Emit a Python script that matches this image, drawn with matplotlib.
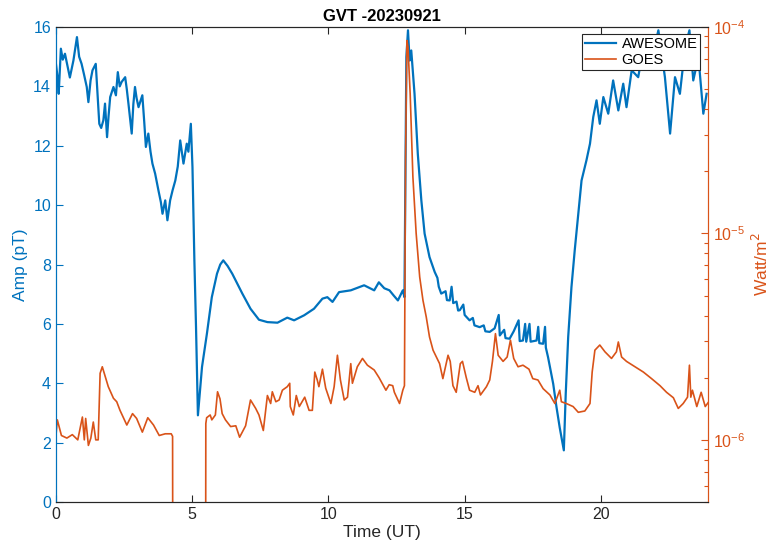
import numpy as np
import matplotlib
matplotlib.use('Agg')
import matplotlib.pyplot as plt
from matplotlib.ticker import LogLocator, NullFormatter

plt.rcParams.update({
    'font.family': ['Liberation Sans', 'DejaVu Sans'],
    'xtick.direction': 'in',
    'ytick.direction': 'in',
})

# AWESOME narrowband amplitude (pT) vs time (UT hours)
awesome_t = [0.00, 0.06, 0.10, 0.18, 0.25, 0.33, 0.42, 0.51, 0.64, 0.77, 0.85, 0.94,
             1.03, 1.13, 1.19, 1.27, 1.34, 1.46, 1.52, 1.59, 1.66, 1.74, 1.80, 1.875,
             1.93, 1.99, 2.11, 2.20, 2.27, 2.34, 2.41, 2.54, 2.60, 2.66, 2.72, 2.78,
             2.84, 2.90, 2.96, 3.03, 3.10, 3.17, 3.24, 3.30, 3.39, 3.47, 3.54, 3.64,
             3.76, 3.85, 3.91, 4.01, 4.09, 4.19, 4.28, 4.38, 4.47, 4.56, 4.62, 4.68,
             4.80, 4.86, 4.95, 5.01, 5.08, 5.14, 5.21, 5.36, 5.54, 5.72, 5.91, 6.03,
             6.14, 6.30, 6.47, 6.84, 7.14, 7.45, 7.76, 8.13, 8.49, 8.74, 9.11, 9.47,
             9.78, 9.96, 10.15, 10.39, 10.82, 11.31, 11.68, 11.85, 12.05, 12.24, 12.40,
             12.55, 12.73, 12.79, 12.86, 12.92, 12.98, 13.04, 13.16, 13.28, 13.41, 13.53,
             13.71, 13.90, 14.00, 14.05, 14.14, 14.30, 14.35, 14.45, 14.52, 14.58, 14.70,
             14.76, 14.82, 14.95, 15.00, 15.18, 15.30, 15.36, 15.55, 15.70, 15.76, 15.92,
             16.10, 16.25, 16.29, 16.45, 16.50, 16.65, 16.80, 16.98, 17.02, 17.14, 17.22,
             17.26, 17.38, 17.42, 17.64, 17.70, 17.74, 17.88, 17.95, 17.98,
             18.06, 18.25, 18.37, 18.49, 18.64, 18.71, 18.80, 18.92, 19.04,
             19.17, 19.29, 19.47, 19.60, 19.72, 19.84, 19.96, 20.09, 20.27, 20.45, 20.64,
             20.82, 20.94, 21.13, 21.37, 21.56, 21.80, 22.11, 22.35, 22.54, 22.72, 22.90,
             23.09, 23.25, 23.39, 23.58, 23.76, 23.88]
awesome_amp = [14.75, 14.3, 13.75, 15.27, 14.9, 15.1, 14.7, 14.3, 14.87, 15.66, 15.0, 14.76,
               14.4, 13.98, 13.47, 14.2, 14.54, 14.76, 13.8, 12.74, 12.6, 12.86, 13.42, 12.29,
               13.0, 13.64, 13.98, 13.7, 14.48, 14.0, 14.15, 14.31, 13.9, 13.42, 12.9, 12.41,
               13.4, 13.98, 13.6, 13.3, 13.5, 13.7, 12.8, 11.96, 12.41, 11.8, 11.4, 11.06,
               10.5, 10.1, 9.71, 10.16, 9.49, 10.16, 10.5, 10.83, 11.3, 12.18, 11.8, 11.4,
               12.07, 11.8, 12.74, 11.28, 8.14, 5.9, 2.92, 4.55, 5.67, 6.9, 7.69, 8.0,
               8.14, 7.95, 7.69, 7.02, 6.51, 6.14, 6.06, 6.04, 6.21, 6.12, 6.29, 6.51,
               6.85, 6.9, 6.74, 7.07, 7.13, 7.3, 7.13, 7.4, 7.2, 7.13, 6.95,
               6.79, 7.13, 6.9, 14.99, 15.89, 14.87, 15.21, 13.75, 11.73, 10.16, 9.04,
               8.25, 7.75, 7.55, 7.25, 7.02, 7.1, 6.8, 6.79, 7.25, 6.7, 6.75,
               6.45, 6.46, 6.65, 6.3, 6.12, 6.2, 5.95, 5.89, 5.95, 5.75, 5.73,
               5.85, 6.3, 5.61, 5.8, 5.52, 5.5, 5.75, 6.12, 5.42, 5.44, 6.0,
               5.4, 6.0, 5.4, 5.44, 5.9, 5.35, 5.33, 5.9, 5.2,
               4.88, 3.98, 3.2, 2.5, 1.74, 3.65, 5.56, 7.24, 8.48,
               9.71, 10.83, 11.51, 12.07, 12.97, 13.53, 12.74, 13.64, 13.08, 14.2, 13.19,
               14.09, 13.3, 14.54, 14.31, 15.32, 14.65, 15.89, 14.31, 12.41, 14.31, 13.75,
               15.32, 15.89, 14.2, 14.99, 13.08, 13.75]

# GOES X-ray flux (W/m^2); dropout between ~4.3 and ~5.5 UT
goes_t = [0.00, 0.05, 0.20, 0.40, 0.60, 0.80, 0.97, 1.04, 1.09, 1.19, 1.28, 1.37,
          1.46, 1.55, 1.62, 1.70, 1.92, 2.11, 2.23, 2.35, 2.60, 2.81, 2.96, 3.17,
          3.37, 3.58, 3.79, 4.01, 4.23, 4.28, 4.31, 5.47, 5.50, 5.53, 5.66, 5.72,
          5.85, 5.93, 6.02, 6.10, 6.22, 6.41, 6.60, 6.74, 6.96, 7.14, 7.33, 7.45,
          7.61, 7.76, 7.88, 7.94, 8.07, 8.19, 8.31, 8.49, 8.58, 8.60, 8.71, 8.82,
          8.93, 9.13, 9.29, 9.41, 9.50, 9.59, 9.65, 9.78, 9.90, 10.09, 10.21, 10.33,
          10.44, 10.58, 10.70, 10.82, 10.88, 11.06, 11.25, 11.43, 11.68, 11.86, 12.11,
          12.23, 12.36, 12.42, 12.61, 12.73, 12.79, 12.83, 12.88, 12.92, 13.00, 13.10,
          13.22, 13.35, 13.47, 13.59, 13.71, 13.84, 13.96, 14.08, 14.20, 14.39, 14.47,
          14.57, 14.69, 14.84, 14.92, 15.06, 15.18, 15.37, 15.49, 15.58, 15.80, 15.92,
          16.02, 16.13, 16.23, 16.41, 16.56, 16.68, 16.80, 16.96, 17.14, 17.36, 17.50,
          17.69, 17.88, 18.13, 18.31, 18.49, 18.55, 18.73, 18.98, 19.17, 19.41, 19.60,
          19.68, 19.78, 19.96, 20.15, 20.39, 20.57, 20.64, 20.76, 20.94, 21.25, 21.56,
          21.86, 22.17, 22.41, 22.66, 22.84, 23.02, 23.18, 23.25, 23.30, 23.36, 23.52,
          23.68, 23.83, 23.96]
goes_flux = [1.05e-6, 1.25e-6, 1.05e-6, 1.02e-6, 1.06e-6, 1.0e-6, 1.29e-6, 1.0e-6, 1.27e-6, 0.94e-6, 1.02e-6, 1.22e-6,
             1.0e-6, 1.0e-6, 2.1e-6, 2.26e-6, 1.81e-6, 1.59e-6, 1.53e-6, 1.39e-6, 1.18e-6, 1.34e-6, 1.27e-6, 1.09e-6,
             1.28e-6, 1.18e-6, 1.05e-6, 1.07e-6, 1.07e-6, 1.04e-6, 1e-9, 1e-9, 1.2e-6, 1.28e-6, 1.32e-6, 1.25e-6,
             1.32e-6, 1.71e-6, 1.58e-6, 1.34e-6, 1.25e-6, 1.16e-6, 1.17e-6, 1.03e-6, 1.17e-6, 1.56e-6, 1.42e-6, 1.32e-6,
             1.11e-6, 1.64e-6, 1.5e-6, 1.71e-6, 1.53e-6, 1.56e-6, 1.74e-6, 1.81e-6, 1.88e-6, 1.45e-6, 1.32e-6, 1.64e-6,
             1.45e-6, 1.61e-6, 1.39e-6, 1.39e-6, 2.13e-6, 1.95e-6, 1.81e-6, 2.2e-6, 1.78e-6, 1.5e-6, 1.81e-6, 2.57e-6,
             1.95e-6, 1.56e-6, 1.61e-6, 2.34e-6, 1.88e-6, 2.26e-6, 2.48e-6, 2.3e-6, 2.18e-6, 2.0e-6, 1.74e-6,
             1.85e-6, 1.83e-6, 1.7e-6, 1.5e-6, 1.74e-6, 1.83e-6, 2.26e-5, 8.6e-5, 8.0e-5, 4.75e-5, 1.88e-5,
             1.0e-5, 6.15e-6, 4.74e-6, 3.94e-6, 3.15e-6, 2.72e-6, 2.52e-6, 2.34e-6, 1.98e-6, 2.57e-6, 2.4e-6,
             1.83e-6, 1.7e-6, 2.34e-6, 2.4e-6, 2.0e-6, 1.74e-6, 1.7e-6, 1.83e-6, 1.65e-6, 1.81e-6, 1.95e-6,
             2.4e-6, 3.27e-6, 2.57e-6, 2.4e-6, 2.52e-6, 3.04e-6, 2.48e-6, 2.26e-6, 2.3e-6, 2.2e-6, 1.98e-6,
             1.95e-6, 1.77e-6, 1.65e-6, 1.5e-6, 1.74e-6, 1.53e-6, 1.5e-6, 1.45e-6, 1.36e-6, 1.38e-6, 1.5e-6,
             2.13e-6, 2.72e-6, 2.88e-6, 2.67e-6, 2.48e-6, 2.67e-6, 2.98e-6, 2.52e-6, 2.4e-6, 2.26e-6, 2.13e-6,
             1.98e-6, 1.83e-6, 1.7e-6, 1.6e-6, 1.42e-6, 1.5e-6, 1.61e-6, 2.3e-6, 1.61e-6, 1.74e-6, 1.45e-6,
             1.7e-6, 1.45e-6, 1.53e-6]

blue = '#0072BD'
orange = '#D95319'
dark = '#262626'

fig = plt.figure(figsize=(7.72, 5.49), dpi=100)
ax = fig.add_axes([0.0725, 0.0856, 0.8442, 0.8652])
ax2 = ax.twinx()

l1, = ax.plot(awesome_t, awesome_amp, color=blue, lw=1.6, label='AWESOME')
l2, = ax2.plot(goes_t, goes_flux, color=orange, lw=1.2, label='GOES')

ax.set_xlim(0, 23.92)
ax.set_ylim(0, 16)
ax.set_xticks([0, 5, 10, 15, 20])
ax.set_yticks(np.arange(0, 17, 2))
ax2.set_yscale('log')
ax2.set_ylim(5e-7, 1e-4)
ax2.yaxis.set_major_locator(LogLocator(base=10, numticks=10))
ax2.yaxis.set_minor_locator(LogLocator(base=10, subs=np.arange(2, 10), numticks=10))
ax2.yaxis.set_minor_formatter(NullFormatter())

for a in (ax, ax2):
    a.spines['top'].set_color(dark)
    a.spines['bottom'].set_color(dark)
    a.spines['left'].set_color(blue)
    a.spines['right'].set_color(orange)
    a.spines[:].set_linewidth(0.8)

ax.tick_params(axis='x', colors=dark, labelsize=11.5, top=True, length=5, width=0.8)
ax.tick_params(axis='y', colors=blue, labelsize=11.5, length=5, width=0.8)
ax2.tick_params(axis='y', which='major', colors=orange, labelsize=11.5, length=5, width=0.8)
ax2.tick_params(axis='y', which='minor', colors=orange, length=3, width=0.8)

ax.set_xlabel('Time (UT)', fontsize=12.5, color=dark, labelpad=2)
ax.set_ylabel('Amp (pT)', fontsize=12.5, color=blue, labelpad=4)
ax2.set_ylabel('Watt/m$^2$', fontsize=12.5, color=orange, labelpad=4)
ax.set_title('GVT -20230921', fontsize=12, fontweight='bold', pad=4)

leg = ax2.legend([l1, l2], ['AWESOME', 'GOES'], loc='upper right', fontsize=10.5,
                 fancybox=False, edgecolor=dark, framealpha=1, borderpad=0.2,
                 handlelength=2.1, handletextpad=0.4, labelspacing=0.15,
                 borderaxespad=0.5)
leg.get_frame().set_linewidth(0.8)

fig.savefig('out.png', dpi=100)
